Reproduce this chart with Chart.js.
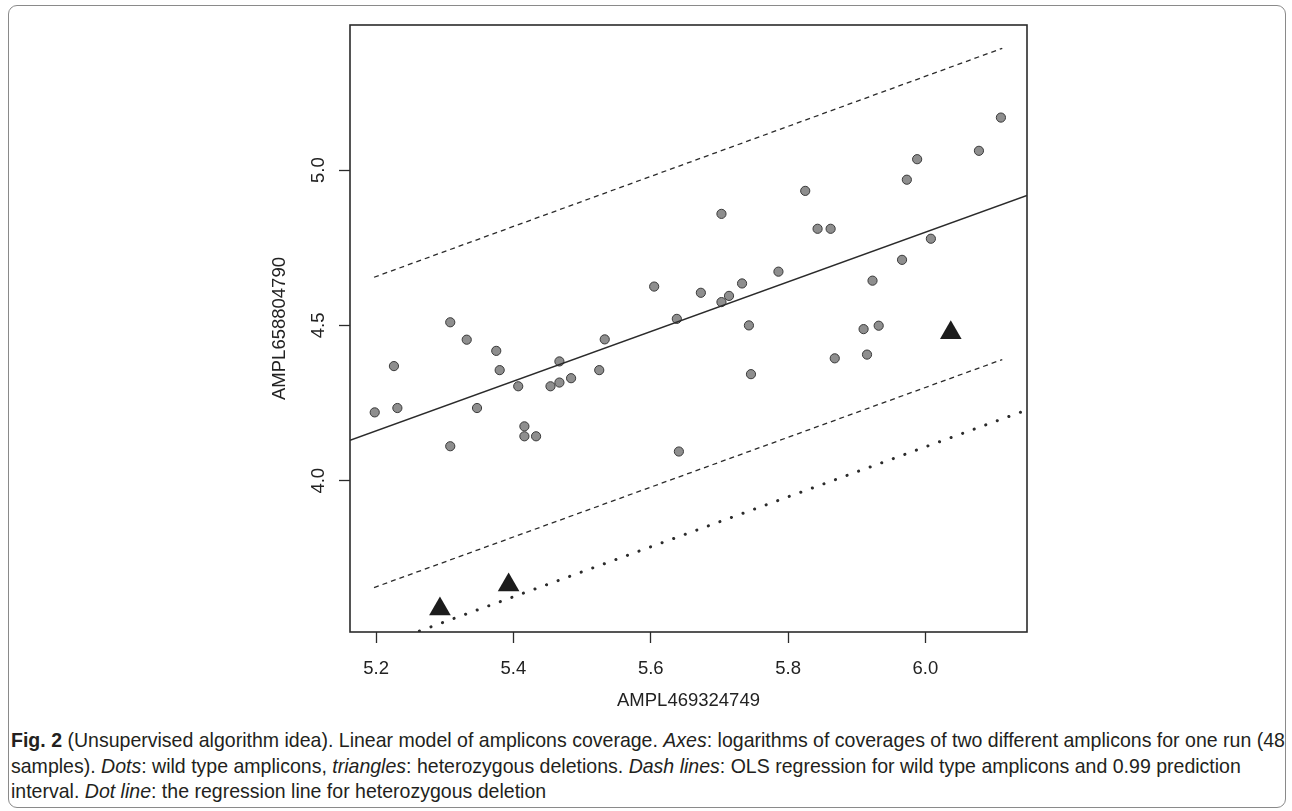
<!DOCTYPE html>
<html>
<head>
<meta charset="utf-8">
<script src="https://cdn.jsdelivr.net/npm/chart.js@4.4.0/dist/chart.umd.min.js"></script>
<style>
  html, body { margin: 0; padding: 0; background: #fff; }
  body { width: 1292px; height: 811px; position: relative; overflow: hidden; }
  #frame { position: absolute; left: 8px; top: 5px; width: 1278px; height: 803px; border: 1.5px solid #8a8a8a; border-radius: 9px; box-sizing: border-box; }
  #chart { position: absolute; left: 0; top: 0; }
  #caption { position: absolute; left: 11px; top: 727px; font: 21px/25.5px "Liberation Sans", Arial, sans-serif; color: #231f20; white-space: nowrap; transform-origin: 0 0; }
</style>
</head>
<body>
<div id="frame"></div>
<canvas id="chart" width="1292" height="720"></canvas>
<div id="caption"><span id="line1"><b>Fig. 2</b> (Unsupervised algorithm idea). Linear model of amplicons coverage. <i>Axes</i>: logarithms of coverages of two different amplicons for one run (48</span><br>samples). <i>Dots</i>: wild type amplicons, <i>triangles</i>: heterozygous deletions. <i>Dash lines</i>: OLS regression for wild type amplicons and 0.99 prediction<br>interval. <i>Dot line</i>: the regression line for heterozygous deletion</div>
<script>
// wild type amplicons (dots)
const wtX = [5.198, 5.226, 5.231, 5.308, 5.308, 5.332, 5.347, 5.375, 5.380, 5.407, 5.416,
  5.416, 5.433, 5.454, 5.467, 5.467, 5.484, 5.525, 5.533, 5.605, 5.638, 5.641, 5.673,
  5.703, 5.703, 5.714, 5.733, 5.743, 5.746, 5.786, 5.825, 5.843, 5.862, 5.868, 5.910,
  5.915, 5.923, 5.932, 5.966, 5.973, 5.988, 6.008, 6.078, 6.110];
const wtY = [4.220, 4.369, 4.234, 4.510, 4.111, 4.454, 4.234, 4.418, 4.356, 4.304, 4.175,
  4.143, 4.143, 4.304, 4.316, 4.384, 4.330, 4.356, 4.455, 4.625, 4.521, 4.094, 4.605,
  4.575, 4.859, 4.595, 4.635, 4.500, 4.343, 4.673, 4.933, 4.811, 4.811, 4.394, 4.488,
  4.406, 4.644, 4.499, 4.711, 4.969, 5.035, 4.779, 5.062, 5.169];

// heterozygous deletions (triangles)
const delX = [5.293, 5.393, 6.037];
const delY = [3.587, 3.664, 4.476];

// OLS fit and 0.99 prediction interval
const olsX = [5.162, 6.148];
const olsY = [4.130, 4.918];
const upperX = [5.197, 6.112];
const upperY = [4.655, 5.392];
const lowerX = [5.197, 6.112];
const lowerY = [3.656, 4.390];

// regression line for heterozygous deletion
const hetX = [5.263, 6.148];
const hetY = [3.516, 4.228];

const xTicks = [5.2, 5.4, 5.6, 5.8, 6.0];
const yTicks = [4.0, 4.5, 5.0];

const toPts = (xs, ys) => xs.map((x, i) => ({x: x, y: ys[i]}));

const ink = '#2b2b2b';
const axisFont = {family: '"Liberation Sans", Arial, sans-serif', size: 18.5};

const boxPlugin = {
  id: 'box',
  afterDatasetsDraw(chart) {
    const {ctx, chartArea: a} = chart;
    ctx.save();
    ctx.strokeStyle = ink;
    ctx.lineWidth = 1.6;
    ctx.strokeRect(a.left, a.top, a.right - a.left, a.bottom - a.top);
    ctx.restore();
  }
};

function lineSet(xs, ys, width, dash, cap) {
  return {
    data: toPts(xs, ys),
    showLine: true,
    pointRadius: 0,
    borderColor: ink,
    borderWidth: width,
    borderDash: dash,
    borderCapStyle: cap,
    clip: 0
  };
}

new Chart(document.getElementById('chart'), {
  type: 'scatter',
  data: {
    datasets: [
      lineSet(olsX, olsY, 1.5, [], 'butt'),
      lineSet(upperX, upperY, 1.3, [5, 4], 'butt'),
      lineSet(lowerX, lowerY, 1.3, [5, 4], 'butt'),
      lineSet(hetX, hetY, 3, [0.1, 12.2], 'round'),
      {
        data: toPts(wtX, wtY),
        pointRadius: 4.6,
        backgroundColor: '#8e8e8e',
        borderColor: '#3a3a3a',
        borderWidth: 1
      },
      {
        data: toPts(delX, delY),
        pointStyle: 'triangle',
        pointRadius: 12.5,
        backgroundColor: '#1c1c1c',
        borderWidth: 0
      }
    ]
  },
  options: {
    responsive: false,
    animation: false,
    layout: {padding: {left: 250, top: 25, right: 265, bottom: 8}},
    plugins: {legend: {display: false}, tooltip: {enabled: false}},
    scales: {
      x: {
        type: 'linear',
        min: 5.162,
        max: 6.148,
        afterBuildTicks: (s) => { s.ticks = xTicks.map(v => ({value: v})); },
        afterFit: (s) => { s.height = 80; },
        border: {display: false},
        grid: {drawOnChartArea: false, drawTicks: true, tickLength: 11, tickColor: ink, tickWidth: 1.3},
        ticks: {font: axisFont, color: '#222', padding: 15, maxRotation: 0, callback: v => v.toFixed(1)},
        title: {display: true, text: 'AMPL469324749', font: axisFont, color: '#222', padding: {top: 0, bottom: 0}}
      },
      y: {
        type: 'linear',
        min: 3.513,
        max: 5.467,
        afterBuildTicks: (s) => { s.ticks = yTicks.map(v => ({value: v})); },
        afterFit: (s) => { s.width = 100; },
        border: {display: false},
        grid: {drawOnChartArea: false, drawTicks: true, tickLength: 11, tickColor: ink, tickWidth: 1.3},
        ticks: {font: axisFont, color: '#222', padding: 7, minRotation: 90, maxRotation: 90, crossAlign: 'center', callback: v => v.toFixed(1)},
        title: {display: true, text: 'AMPL658804790', font: axisFont, color: '#222', padding: {top: 19, bottom: 0}}
      }
    }
  },
  plugins: [boxPlugin]
});

// squeeze the caption so its first line runs to the right border, like the condensed original
function fitCaption() {
  const cap = document.getElementById('caption');
  cap.style.transform = 'none';
  const w = document.getElementById('line1').getBoundingClientRect().width;
  cap.style.transform = 'scaleX(' + (1274 / w).toFixed(4) + ')';
}
fitCaption();
document.fonts.ready.then(fitCaption);
</script>
</body>
</html>
